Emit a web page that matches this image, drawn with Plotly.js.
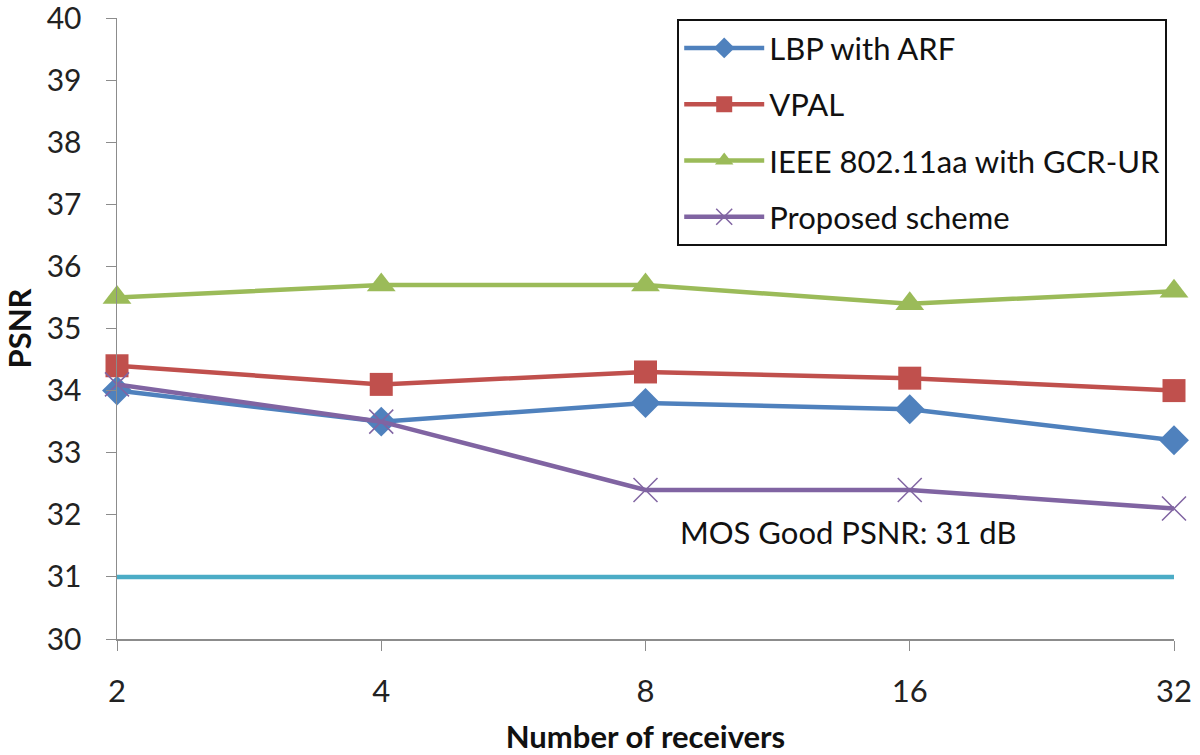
<!DOCTYPE html>
<html>
<head>
<meta charset="utf-8">
<script src="https://cdn.plot.ly/plotly-3.0.1.min.js"></script>
<style>
  html, body { margin: 0; padding: 0; background: #fff; }
  #chart { width: 1200px; height: 755px; }
</style>
</head>
<body>
<div id="chart"></div>
<script>
  /* receivers on the x axis (categories) */
  var receivers = ['2', '4', '8', '16', '32'];

  /* PSNR per scheme */
  var lbpArf   = [34.0, 33.5, 33.8, 33.7, 33.2];
  var vpal     = [34.4, 34.1, 34.3, 34.2, 34.0];
  var ieeeGcr  = [35.5, 35.7, 35.7, 35.4, 35.6];
  var proposed = [34.1, 33.5, 32.4, 32.4, 32.1];

  var mosGood = 31;
  var mosLabel = 'MOS Good PSNR: 31 dB';
  var yTicks = [30, 31, 32, 33, 34, 35, 36, 37, 38, 39, 40];

  var FONT = 'Lato, "Open Sans", sans-serif';

  function series(name, y, color, symbol, size, mcolor) {
    return {
      x: receivers, y: y, name: name, type: 'scatter', mode: 'lines+markers',
      legendgroup: name, cliponaxis: false,
      line: { color: color, width: 4.5 },
      marker: { symbol: symbol, size: size, color: mcolor || color, line: { width: 0 } }
    };
  }

  var traces = [
    // threshold line, not in legend
    { x: receivers, y: receivers.map(function () { return mosGood; }), mode: 'lines',
      line: { color: '#4bacc6', width: 4.5 }, showlegend: false, hoverinfo: 'skip' },
    series('LBP with ARF', lbpArf, '#4f81bd', 'diamond', 23),
    series('VPAL', vpal, '#c0504d', 'square', 23),
    series('IEEE 802.11aa with GCR-UR', ieeeGcr, '#9bbb59', 'triangle-up', 25),
    series('Proposed scheme', proposed, '#8064a2', 'x-thin-open', 24)
  ];
  traces[4].marker.line = { width: 1.5, color: '#9a86bd' };

  var layout = {
    width: 1200, height: 755,
    margin: { l: 117, r: 26, t: 18, b: 116 },
    paper_bgcolor: '#fff', plot_bgcolor: '#fff',
    font: { family: FONT, size: 31, color: '#222' },
    showlegend: true,
    legend: {
      x: 0.53, y: 0.998, xanchor: 'left', yanchor: 'top',
      bordercolor: '#111', borderwidth: 2, bgcolor: '#fff',
      font: { family: FONT, size: 31, color: '#111' },
      traceorder: 'grouped', tracegroupgap: 13,
      itemwidth: 80
    },
    xaxis: {
      type: 'category', range: [0, 4],
      showline: true, linecolor: '#8c8c8c', linewidth: 1.5,
      ticks: 'outside', ticklen: 10, tickcolor: '#8c8c8c',
      ticklabelstandoff: 14, ticklabeloverflow: 'allow',
      showgrid: false, zeroline: false,
      tickfont: { size: 31, color: '#222' },
      title: { text: '<b>Number of receivers</b>', font: { size: 31, color: '#111' }, standoff: 24 }
    },
    yaxis: {
      range: [30, 40], tickvals: yTicks,
      showline: true, linecolor: '#8c8c8c', linewidth: 1.5,
      ticks: 'outside', ticklen: 10, tickcolor: '#8c8c8c',
      ticklabelstandoff: 18, ticklabeloverflow: 'allow',
      showgrid: false, zeroline: false,
      tickfont: { size: 30, color: '#222' },
      title: { text: '<b>PSNR</b>', font: { size: 31, color: '#111' }, standoff: 12 }
    },
    annotations: [{
      x: 2.77, y: 31.72, xref: 'x', yref: 'y', text: mosLabel, showarrow: false,
      font: { family: FONT, size: 31, color: '#111' }
    }]
  };

  Plotly.newPlot('chart', traces, layout, { displayModeBar: false, staticPlot: true });
</script>
</body>
</html>
